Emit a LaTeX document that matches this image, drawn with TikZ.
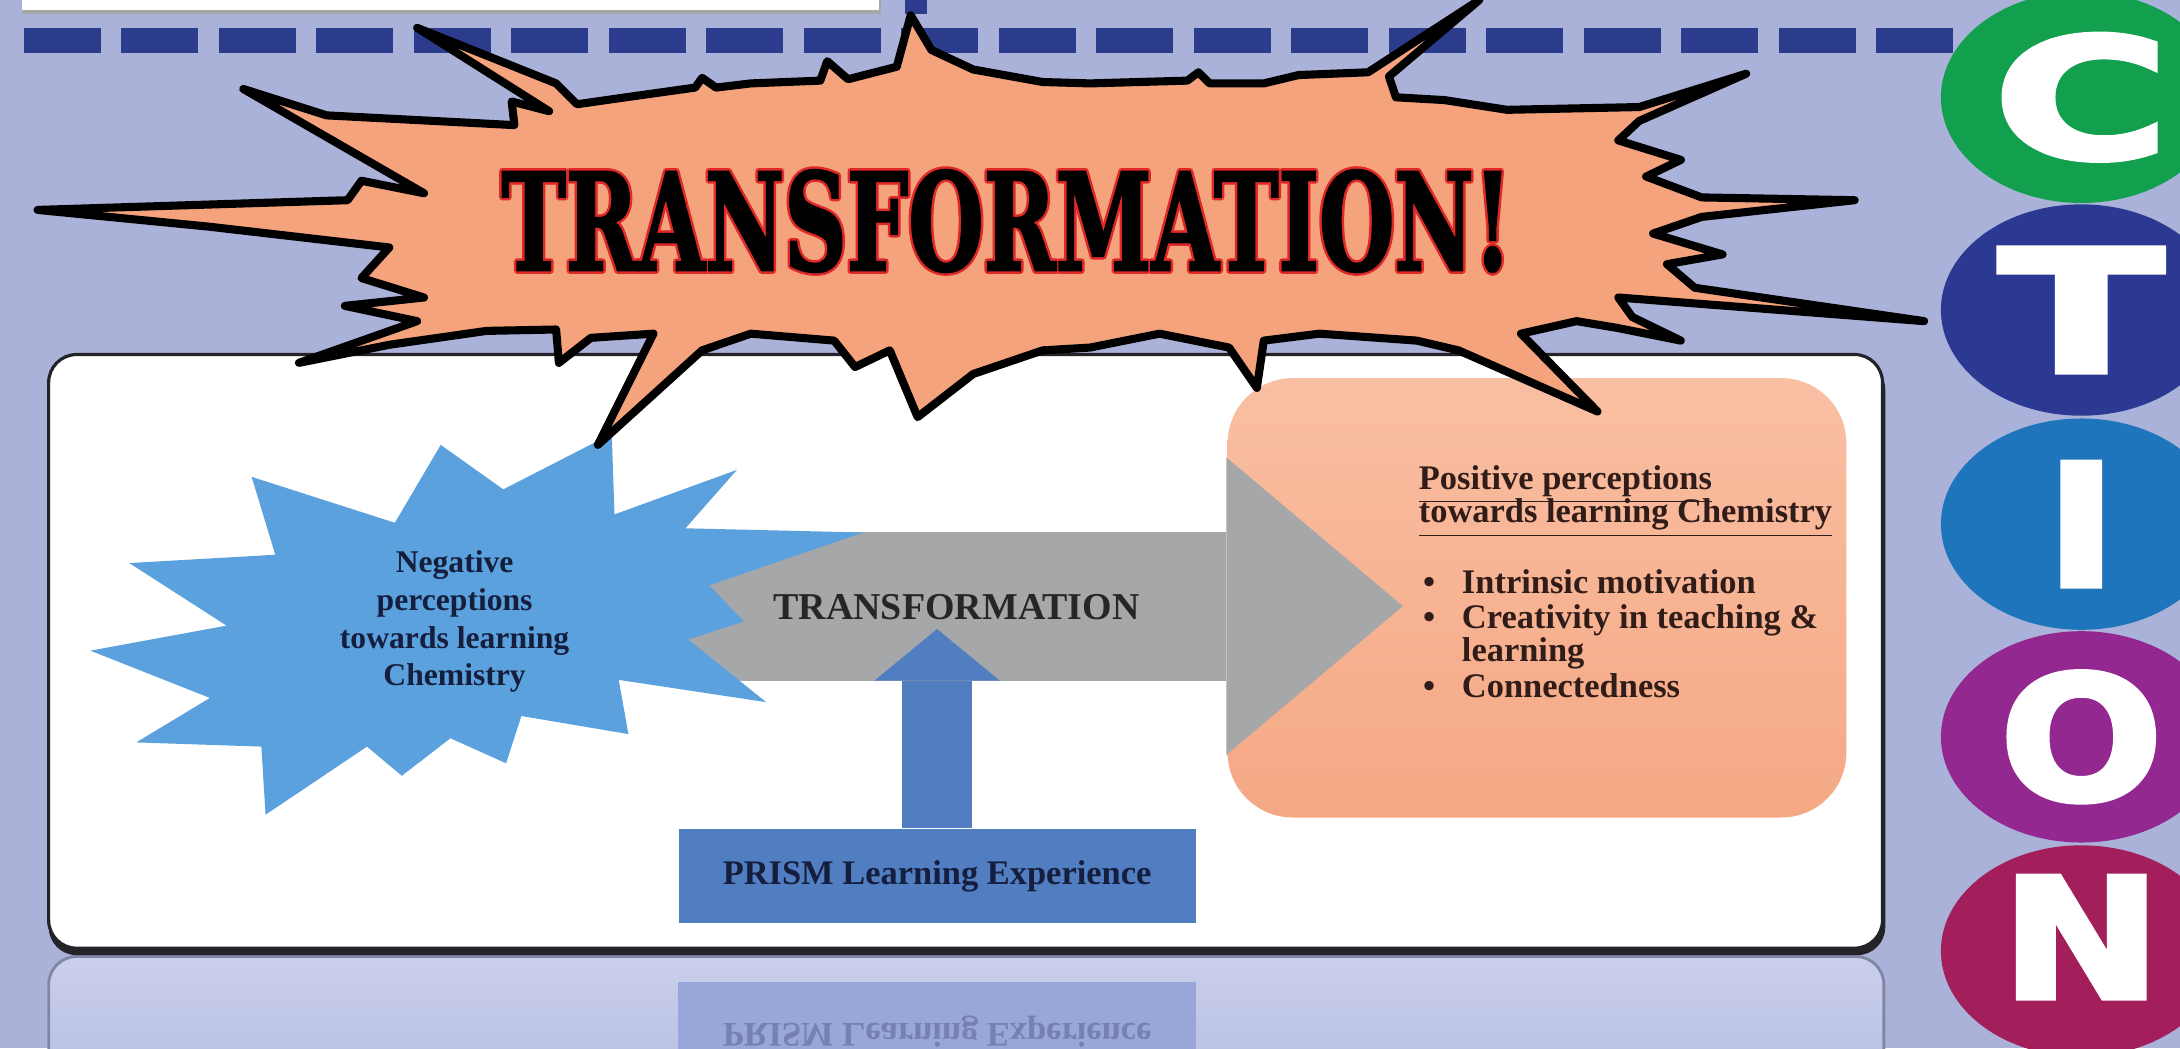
\documentclass[tikz,border=0pt]{standalone}
\usepackage{fontspec}
\setmainfont{Liberation Serif}
\newfontfamily\burstfont{DejaVu Serif}[FakeBold=2]
\newfontfamily\ltrfont{DejaVu Sans}[FakeBold=3]
\usetikzlibrary{arrows.meta,positioning}

\definecolor{bglav}{RGB}{170,178,218}
\definecolor{dashblue}{RGB}{44,60,140}
\definecolor{burstorange}{RGB}{244,163,124}
\definecolor{outred}{RGB}{225,40,40}
\definecolor{boxedge}{RGB}{35,35,40}
\definecolor{negblue}{RGB}{91,161,221}
\definecolor{arrowgray}{RGB}{166,167,169}
\definecolor{prismblue}{RGB}{80,126,193}
\definecolor{salmontop}{RGB}{249,191,162}
\definecolor{salmonbot}{RGB}{245,168,132}
\definecolor{textnavy}{RGB}{22,30,62}
\definecolor{textbrown}{RGB}{48,28,24}
\definecolor{reflband}{RGB}{202,207,236}
\definecolor{reflblue}{RGB}{152,166,218}
\definecolor{refltext}{RGB}{118,128,178}
\definecolor{cgreen}{RGB}{18,160,78}
\definecolor{cnavy}{RGB}{44,57,146}
\definecolor{cblue}{RGB}{30,117,188}
\definecolor{cpurple}{RGB}{148,40,145}
\definecolor{cmaroon}{RGB}{163,31,92}

\newcommand{\bigword}{\resizebox{101mm}{10mm}{\burstfont\bfseries TRANSFORMATION!}}

\tikzset{
	negtext/.style={font=\bfseries\fontsize{9}{10.8}\selectfont, text=textnavy, align=center, inner sep=0pt},
	midtext/.style={font=\bfseries\fontsize{10.8}{12}\selectfont, text=black!85, inner sep=0pt},
	prismbox/.style={fill=prismblue, minimum width=51.7mm, minimum height=9.45mm, inner sep=0pt, font=\bfseries\fontsize{9.8}{11}\selectfont, text=textnavy},
	postext/.style={font=\bfseries\fontsize{9.8}{11}\selectfont, text=textbrown, inner sep=0pt, anchor=base west},
	grayarrow/.style={arrowgray, line width=14.9mm, -{Triangle[width=29.75mm, length=17.65mm, line width=0pt]}},
	uparrow/.style={prismblue, line width=6.95mm, -{Triangle[width=12.5mm, length=5.15mm, line width=0pt]}},
	bigtitle/.style={inner sep=0pt},
	lettr/.style={inner sep=0pt, text=white},
}

\begin{document}
\begin{tikzpicture}[x=0.13903mm, y=-0.13903mm]

	\useasboundingbox (0,0) rectangle (1568,754);
	\clip (0,0) rectangle (1568,754);
	\fill[bglav] (0,0) rectangle (1568,754);

	\fill[black!35] (16,-5) rectangle (634,10);
	\fill[white] (16,-5) rectangle (632,7);
	\fill[dashblue] (651,-5) rectangle (667,10);
	\draw[dashblue, line width=2.5mm, dash pattern=on 7.7mm off 2.05mm] (17,29) -- (1410,29);

	% reflection under the panel
	\shade[top color=reflband, bottom color=bglav!85!white, rounded corners=2.8mm] (35,688) rectangle (1355,780);
	\draw[black!25!bglav, line width=0.8pt, rounded corners=2.8mm] (35,780) -- (35,688) -- (1355,688) -- (1355,780);
	\fill[reflblue] (488,706) rectangle (860,780);
	\node[prismbox, fill=none, text=refltext, yscale=-1] (prismrefl) at (674,742) {PRISM Learning Experience};

	% panel
	\fill[boxedge, rounded corners=2.8mm] (35,260) rectangle (1356,687);
	\draw[boxedge, line width=0.9pt, fill=white, rounded corners=2.8mm] (35,255) rectangle (1354,682);

	\shade[top color=salmontop, bottom color=salmonbot, rounded corners=6.5mm] (883,272) rectangle (1328,588);

	\coordinate (grytail) at (470,436);
	\coordinate (grytip) at (1009,436);
	\draw[grayarrow] (grytail) -- (grytip);

	\fill[negblue] (317,320) -- (362,352) -- (440,312) -- (442,370) -- (530,338) -- (493,380) -- (621,383) -- (510,421) -- (535,447) -- (495,460) -- (551,505) -- (445,489) -- (452,528) -- (375,515) -- (364,549) -- (324,531) -- (289,558) -- (264,537) -- (191,586) -- (188,537) -- (98,534) -- (151,502) -- (65,468) -- (163,450) -- (93,405) -- (198,399) -- (181,343) -- (284,376) -- cycle;

	\node[negtext] (neg) at (327,447) {Negative\\perceptions\\towards learning\\Chemistry};
	\node[midtext] (trans) at (688,437) {TRANSFORMATION};
	\node[prismbox] (prism) at (674,630) {PRISM Learning Experience};
	\draw[uparrow, shorten >=0.8mm] (prism.north) -- (prism.north |- trans.south);

	\node[postext] (posA) at (1020,352) {\underline{Positive perceptions}};
	\node[postext] (posB) at (1020,376) {\underline{towards learning Chemistry}};
	\node[postext] (itmA) at (1023,427) {\makebox[3.9mm][l]{\textbullet}Intrinsic motivation};
	\node[postext] (itmB) at (1023,452) {\makebox[3.9mm][l]{\textbullet}Creativity in teaching \&};
	\node[postext] (itmC) at (1051,476) {learning};
	\node[postext] (itmD) at (1023,502) {\makebox[3.9mm][l]{\textbullet}Connectedness};

	% the big burst
	\draw[fill=burstorange, line width=2.3pt, line join=round] (27,151) -- (250,144) -- (260,130) -- (275,133) -- (305,139) -- (175,64) -- (235,83) -- (370,90) -- (368,73) -- (395,80) -- (300,20) -- (400,60) -- (415,75) -- (450,70) -- (500,63) -- (505,56) -- (515,63) -- (540,60) -- (590,58) -- (595,44) -- (610,57) -- (645,48) -- (655,11) -- (670,36) -- (700,50) -- (750,59) -- (784,60) -- (854,58) -- (862,52) -- (870,60) -- (909,60) -- (934,54) -- (984,52) -- (1064,0) -- (999,55) -- (1004,70) -- (1039,72) -- (1084,79) -- (1179,77) -- (1256,53) -- (1179,87) -- (1164,101) -- (1209,115) -- (1184,127) -- (1224,142) -- (1334,144) -- (1224,156) -- (1189,168) -- (1239,183) -- (1199,190) -- (1219,207) -- (1384,231) -- (1164,214) -- (1174,228) -- (1209,245) -- (1164,236) -- (1134,231) -- (1094,240) -- (1149,296) -- (1049,252) -- (1019,245) -- (949,240) -- (909,245) -- (904,279) -- (884,250) -- (834,240) -- (784,250) -- (750,252) -- (700,269) -- (660,300) -- (640,252) -- (615,264) -- (600,245) -- (540,240) -- (505,252) -- (430,320) -- (470,240) -- (425,243) -- (402,261) -- (400,237) -- (350,238) -- (280,248) -- (215,261) -- (300,231) -- (248,220) -- (305,214) -- (260,200) -- (280,178) -- (150,163) -- cycle;
	\foreach \a in {0,45,...,315}
		\node[bigtitle, text=outred, shift={(\a:0.25mm)}] at (724,159) {\bigword};
	\node[bigtitle] (title) at (724,159) {\bigword};

	\foreach \ltr/\clr/\yy/\ty/\ww/\hh in {C/cgreen/70/70/17.6mm/12.4mm, T/cnavy/223/223/16.5mm/12.4mm, I/cblue/377/377/7.1mm/12.4mm, O/cpurple/530/530/16.3mm/12.8mm, N/cmaroon/684/674/16mm/12.2mm} {
		\fill[\clr] (1497,\yy) ellipse (101 and 76);
		\node[lettr] (l\ltr) at (1497,\ty) {\resizebox{\ww}{\hh}{\ltrfont\bfseries\ltr}};
	}

\end{tikzpicture}
\end{document}
